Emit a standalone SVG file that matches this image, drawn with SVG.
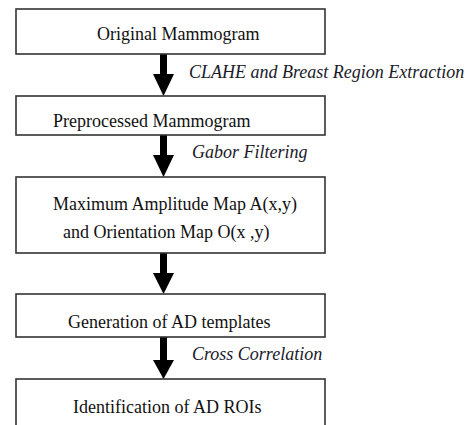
<svg xmlns="http://www.w3.org/2000/svg" width="475" height="425" viewBox="0 0 475 425">
<defs>
<style>
.box{fill:#fff;stroke:#333;stroke-width:1.6}
.t{font-family:"Liberation Serif","Times New Roman",serif;font-size:18px;fill:#111}
.l{font-family:"Liberation Serif","Times New Roman",serif;font-size:18px;font-style:italic;fill:#1a1a2a}
.arr{fill:#000}
</style>
</defs>
<rect width="475" height="425" fill="#fff"/>
<g id="connectors">
<g id="a1"><rect class="arr" x="160" y="54" width="7" height="21"/><polygon class="arr" points="153,74 174,74 163.5,96"/></g>
<g id="a2"><rect class="arr" x="160" y="135" width="7" height="21"/><polygon class="arr" points="153,155 174,155 163.5,177"/></g>
<g id="a3"><rect class="arr" x="160" y="253" width="7" height="21"/><polygon class="arr" points="153,273 174,273 163.5,294"/></g>
<g id="a4"><rect class="arr" x="160" y="337" width="7" height="24"/><polygon class="arr" points="153,360 174,360 163.5,379"/></g>
<text class="l" x="189" y="78">CLAHE and Breast Region Extraction</text>
<text class="l" x="192" y="158">Gabor Filtering</text>
<text class="l" x="192" y="360">Cross Correlation</text>
</g>
<g id="n1"><rect class="box" x="16" y="9" width="309" height="45"/><text class="t" x="97" y="40">Original Mammogram</text></g>
<g id="n2"><rect class="box" x="16" y="96" width="309" height="39"/><text class="t" x="53" y="127">Preprocessed Mammogram</text></g>
<g id="n3"><rect class="box" x="16" y="177" width="309" height="76"/><text class="t" x="53" y="210">Maximum Amplitude Map A(x,y)</text><text class="t" x="63" y="238">and Orientation Map O(x ,y)</text></g>
<g id="n4"><rect class="box" x="16" y="294" width="309" height="43"/><text class="t" x="68" y="328">Generation of AD templates</text></g>
<g id="n5"><rect class="box" x="16" y="379" width="309" height="60"/><text class="t" x="73" y="413">Identification of AD ROIs</text></g>
</svg>
